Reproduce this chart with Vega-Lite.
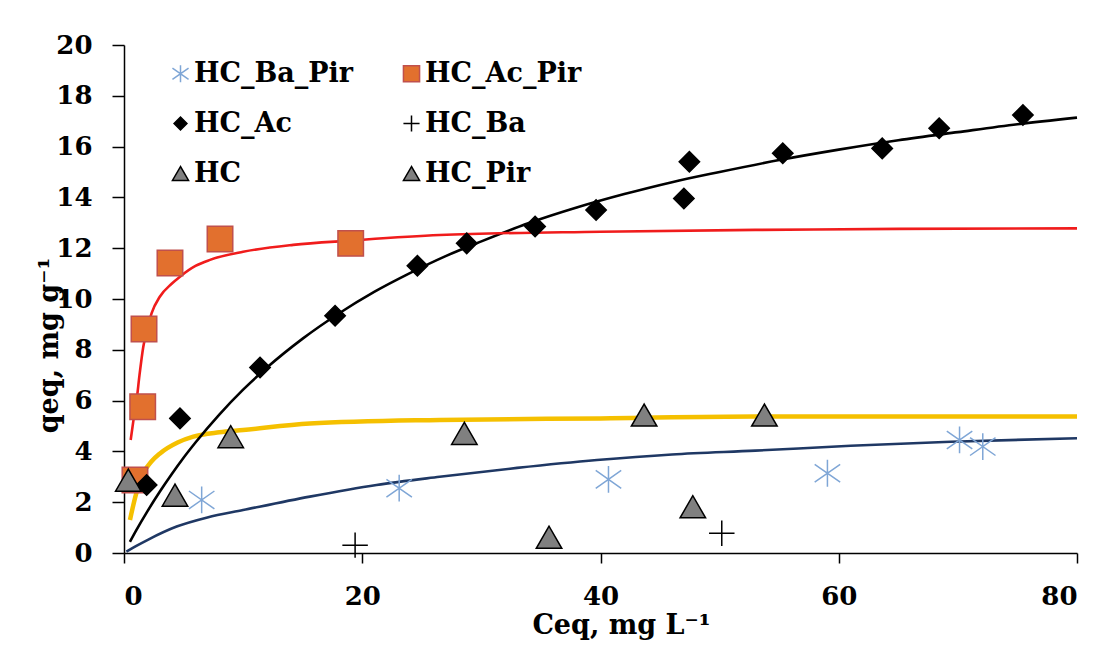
{
  "$schema": "https://vega.github.io/schema/vega-lite/v6.json",
  "width": 953,
  "height": 508,
  "autosize": "none",
  "padding": {"left": 124, "top": 45, "right": 28, "bottom": 99},
  "background": "white",
  "config": {
    "view": {"stroke": null},
    "axis": {
      "grid": false,
      "domainColor": "#000000",
      "domainWidth": 1.5,
      "tickColor": "#000000",
      "tickWidth": 1.5,
      "labelFont": "DejaVu Serif",
      "labelFontWeight": "bold",
      "labelFontSize": 26,
      "labelColor": "#000000",
      "titleFont": "DejaVu Serif",
      "titleFontWeight": "bold",
      "titleFontSize": 27,
      "titleColor": "#000000"
    },
    "legend": {
      "title": null, "orient": "none", "legendX": 43, "legendY": 15, "columns": 2, "direction": "horizontal",
      "columnPadding": 44, "rowPadding": 22, "padding": 0, "symbolSize": 260, "symbolStrokeWidth": 1.5,
      "labelFont": "DejaVu Serif", "labelFontWeight": "bold", "labelFontSize": 27, "labelColor": "#000000", "labelOffset": 0
    }
  },
  "datasets": {
    "pts": [
      {"s": "HC_Ba_Pir", "c": 6.52, "q": 2.09},
      {"s": "HC_Ba_Pir", "c": 23.1, "q": 2.55},
      {"s": "HC_Ba_Pir", "c": 40.67, "q": 2.9},
      {"s": "HC_Ba_Pir", "c": 59.05, "q": 3.14},
      {"s": "HC_Ba_Pir", "c": 70.14, "q": 4.45},
      {"s": "HC_Ba_Pir", "c": 72.09, "q": 4.19},
      {"s": "HC_Ac_Pir", "c": 0.92, "q": 2.87},
      {"s": "HC_Ac_Pir", "c": 1.57, "q": 5.76},
      {"s": "HC_Ac_Pir", "c": 1.68, "q": 8.82},
      {"s": "HC_Ac_Pir", "c": 3.86, "q": 11.42},
      {"s": "HC_Ac_Pir", "c": 8.06, "q": 12.36},
      {"s": "HC_Ac_Pir", "c": 19.03, "q": 12.19},
      {"s": "HC_Ac", "c": 1.9, "q": 2.68},
      {"s": "HC_Ac", "c": 4.7, "q": 5.3},
      {"s": "HC_Ac", "c": 11.42, "q": 7.3},
      {"s": "HC_Ac", "c": 17.72, "q": 9.34},
      {"s": "HC_Ac", "c": 24.63, "q": 11.31},
      {"s": "HC_Ac", "c": 28.77, "q": 12.19},
      {"s": "HC_Ac", "c": 34.51, "q": 12.85},
      {"s": "HC_Ac", "c": 39.63, "q": 13.5},
      {"s": "HC_Ac", "c": 47.0, "q": 13.96},
      {"s": "HC_Ac", "c": 47.46, "q": 15.4},
      {"s": "HC_Ac", "c": 55.3, "q": 15.74},
      {"s": "HC_Ac", "c": 63.65, "q": 15.93},
      {"s": "HC_Ac", "c": 68.43, "q": 16.72},
      {"s": "HC_Ac", "c": 75.46, "q": 17.24},
      {"s": "HC_Ba", "c": 19.4, "q": 0.31},
      {"s": "HC_Ba", "c": 50.18, "q": 0.78},
      {"s": "HC", "c": 4.28, "q": 2.28},
      {"s": "HC", "c": 35.68, "q": 0.62},
      {"s": "HC", "c": 47.75, "q": 1.82},
      {"s": "HC_Pir", "c": 0.36, "q": 2.87},
      {"s": "HC_Pir", "c": 8.96, "q": 4.58},
      {"s": "HC_Pir", "c": 28.57, "q": 4.71},
      {"s": "HC_Pir", "c": 43.66, "q": 5.43},
      {"s": "HC_Pir", "c": 53.76, "q": 5.43}
    ],
    "fits": [
      {"f": "red", "c": 0.56, "q": 4.45}, {"f": "red", "c": 0.8, "q": 5.25}, {"f": "red", "c": 1.06, "q": 6.02},
      {"f": "red", "c": 1.3, "q": 7.0}, {"f": "red", "c": 1.62, "q": 8.12}, {"f": "red", "c": 2.0, "q": 8.9},
      {"f": "red", "c": 2.32, "q": 9.44}, {"f": "red", "c": 3.02, "q": 10.1}, {"f": "red", "c": 4.0, "q": 10.6},
      {"f": "red", "c": 4.7, "q": 10.88}, {"f": "red", "c": 6.0, "q": 11.3}, {"f": "red", "c": 7.22, "q": 11.54},
      {"f": "red", "c": 10.0, "q": 11.86}, {"f": "red", "c": 14.2, "q": 12.13}, {"f": "red", "c": 19.0, "q": 12.3},
      {"f": "red", "c": 26.5, "q": 12.52}, {"f": "red", "c": 40.0, "q": 12.65}, {"f": "red", "c": 53.0, "q": 12.72},
      {"f": "red", "c": 65.0, "q": 12.76}, {"f": "red", "c": 80.0, "q": 12.78},
      {"f": "black", "c": 0.5, "q": 0.44}, {"f": "black", "c": 1.0, "q": 0.87}, {"f": "black", "c": 2.0, "q": 1.67},
      {"f": "black", "c": 3.0, "q": 2.41}, {"f": "black", "c": 4.0, "q": 3.1}, {"f": "black", "c": 5.0, "q": 3.75},
      {"f": "black", "c": 6.0, "q": 4.35}, {"f": "black", "c": 8.0, "q": 5.45}, {"f": "black", "c": 10.0, "q": 6.43},
      {"f": "black", "c": 12.0, "q": 7.3}, {"f": "black", "c": 15.0, "q": 8.44}, {"f": "black", "c": 18.0, "q": 9.42},
      {"f": "black", "c": 21.0, "q": 10.28}, {"f": "black", "c": 24.0, "q": 11.02}, {"f": "black", "c": 27.0, "q": 11.69},
      {"f": "black", "c": 30.0, "q": 12.27}, {"f": "black", "c": 34.0, "q": 12.99}, {"f": "black", "c": 38.0, "q": 13.6},
      {"f": "black", "c": 42.0, "q": 14.13}, {"f": "black", "c": 46.0, "q": 14.6}, {"f": "black", "c": 50.0, "q": 15.0},
      {"f": "black", "c": 55.0, "q": 15.47}, {"f": "black", "c": 60.0, "q": 15.88}, {"f": "black", "c": 65.0, "q": 16.25},
      {"f": "black", "c": 70.0, "q": 16.57}, {"f": "black", "c": 75.0, "q": 16.88}, {"f": "black", "c": 80.0, "q": 17.14},
      {"f": "yellow", "c": 0.5, "q": 1.3}, {"f": "yellow", "c": 1.0, "q": 2.3}, {"f": "yellow", "c": 1.62, "q": 3.14},
      {"f": "yellow", "c": 2.3, "q": 3.6}, {"f": "yellow", "c": 3.02, "q": 3.92}, {"f": "yellow", "c": 4.5, "q": 4.35},
      {"f": "yellow", "c": 5.82, "q": 4.58}, {"f": "yellow", "c": 8.0, "q": 4.75}, {"f": "yellow", "c": 10.0, "q": 4.84},
      {"f": "yellow", "c": 15.6, "q": 5.1}, {"f": "yellow", "c": 26.5, "q": 5.24}, {"f": "yellow", "c": 40.0, "q": 5.3},
      {"f": "yellow", "c": 53.0, "q": 5.37}, {"f": "yellow", "c": 80.0, "q": 5.37},
      {"f": "navy", "c": 0.2, "q": 0.05}, {"f": "navy", "c": 1.0, "q": 0.27}, {"f": "navy", "c": 2.0, "q": 0.52},
      {"f": "navy", "c": 4.42, "q": 1.04}, {"f": "navy", "c": 7.0, "q": 1.4}, {"f": "navy", "c": 10.0, "q": 1.69},
      {"f": "navy", "c": 15.6, "q": 2.22}, {"f": "navy", "c": 21.2, "q": 2.68}, {"f": "navy", "c": 26.5, "q": 3.0},
      {"f": "navy", "c": 33.0, "q": 3.35}, {"f": "navy", "c": 39.7, "q": 3.66}, {"f": "navy", "c": 46.0, "q": 3.88},
      {"f": "navy", "c": 53.0, "q": 4.03}, {"f": "navy", "c": 61.0, "q": 4.22}, {"f": "navy", "c": 69.4, "q": 4.38},
      {"f": "navy", "c": 80.0, "q": 4.52}
    ]
  },
  "encoding": {
    "x": {
      "field": "c", "type": "quantitative",
      "scale": {"domain": [0, 80], "nice": false, "zero": true},
      "axis": {
        "values": [0, 20, 40, 60, 80],
        "tickSize": 10,
        "labelPadding": 20,
        "title": "Ceq, mg L⁻¹",
        "titleX": 497,
        "titleY": 80,
        "titleBaseline": "alphabetic",
        "titleAlign": "center"
      }
    },
    "y": {
      "field": "q", "type": "quantitative",
      "scale": {"domain": [0, 20], "nice": false},
      "axis": {
        "values": [0, 2, 4, 6, 8, 10, 12, 14, 16, 18, 20],
        "tickSize": 12,
        "labelPadding": 20,
        "title": "qeq, mg g⁻¹",
        "titleX": -67,
        "titleY": 300,
        "titleAngle": 270,
        "titleBaseline": "alphabetic",
        "titleAlign": "center"
      }
    }
  },
  "layer": [
    {
      "data": {"name": "fits"},
      "transform": [{"filter": "datum.f === 'navy'"}],
      "mark": {"type": "line", "color": "#1F3864", "strokeWidth": 2.6, "interpolate": "monotone"}
    },
    {
      "data": {"name": "fits"},
      "transform": [{"filter": "datum.f === 'yellow'"}],
      "mark": {"type": "line", "color": "#F5C000", "strokeWidth": 4.5, "interpolate": "monotone"}
    },
    {
      "data": {"name": "fits"},
      "transform": [{"filter": "datum.f === 'black'"}],
      "mark": {"type": "line", "color": "#000000", "strokeWidth": 2.6, "interpolate": "monotone"}
    },
    {
      "data": {"name": "fits"},
      "transform": [{"filter": "datum.f === 'red'"}],
      "mark": {"type": "line", "color": "#F01C1C", "strokeWidth": 2.6, "interpolate": "monotone"}
    },
    {
      "data": {"name": "pts"},
      "mark": {"type": "point", "filled": true, "strokeWidth": 1.5, "opacity": 1, "size": 650},
      "encoding": {
        "shape": {
          "field": "s", "type": "nominal",
          "scale": {
            "domain": ["HC_Ba_Pir", "HC_Ac_Pir", "HC_Ac", "HC_Ba", "HC", "HC_Pir"],
            "range": ["M0,-1.05L0,1.05M-1,-0.7L1,0.7M-1,0.7L1,-0.7", "square", "M-0.8,0L0,-0.8L0.8,0L0,0.8Z", "M-1,0L1,0M0,-1L0,1", "triangle-up", "triangle-up"]
          }
        },
        "fill": {
          "field": "s", "type": "nominal",
          "scale": {
            "domain": ["HC_Ba_Pir", "HC_Ac_Pir", "HC_Ac", "HC_Ba", "HC", "HC_Pir"],
            "range": ["#7FA6D6", "#E2702E", "#000000", "#000000", "#808080", "#808080"]
          }
        },
        "stroke": {
          "field": "s", "type": "nominal",
          "scale": {
            "domain": ["HC_Ba_Pir", "HC_Ac_Pir", "HC_Ac", "HC_Ba", "HC", "HC_Pir"],
            "range": ["#7FA6D6", "#C0504D", "#000000", "#000000", "#000000", "#000000"]
          }
        }
      }
    }
  ]
}
